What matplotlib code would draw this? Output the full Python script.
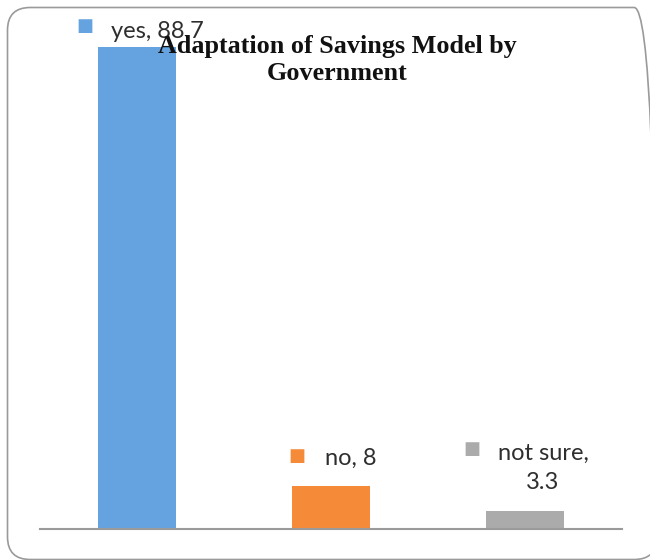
import matplotlib
matplotlib.use("Agg")
import matplotlib.pyplot as plt
from matplotlib.patches import FancyBboxPatch

categories = ["yes", "no", "not sure"]
values = [88.7, 8, 3.3]
label_texts = ["yes, 88.7", "no, 8", "not sure,\n3.3"]
colors = ["#65A3E0", "#F58A38", "#ABABAB"]
title = "Adaptation of Savings Model by\nGovernment"

# label placement (pixel offsets from bar top-centre)
marker_offsets = [(-52, 21), (-34, 30), (-53, 62)]
text_offsets = [(-26, 16), (-6, 27), (18, 43)]
text_ha = ["left", "left", "center"]

W, H, DPI = 650, 560, 100
fig = plt.figure(figsize=(W / DPI, H / DPI), dpi=DPI)

# rounded frame
frame = FancyBboxPatch((7.5 / W, 0.5 / H), (657 - 7.5) / W, (552.5 - 0.5) / H,
                       boxstyle="round,pad=0,rounding_size=0.035",
                       transform=fig.transFigure, facecolor="none",
                       edgecolor="#9A9A9A", linewidth=1.2, zorder=-1,
                       mutation_aspect=W / H)
fig.patches.append(frame)

ax = fig.add_axes([40 / W, 31 / H, 582 / W, 489 / H])
ax.patch.set_alpha(0)
x = list(range(len(categories)))
ax.bar(x, values, width=0.4, color=colors, zorder=2)
ax.set_xlim(-0.5, 2.5)
ax.set_ylim(0, 90)
for s in ["top", "right", "left"]:
    ax.spines[s].set_visible(False)
ax.spines["bottom"].set_color("#9A9A9A")
ax.spines["bottom"].set_linewidth(1.5)
ax.set_xticks([])
ax.set_yticks([])

for i, (v, lab, c) in enumerate(zip(values, label_texts, colors)):
    ax.annotate("■", xy=(i, v), xytext=marker_offsets[i], textcoords="offset pixels",
                ha="center", va="center", color=c, fontsize=13,
                family="DejaVu Sans", zorder=3, annotation_clip=False)
    ax.annotate(lab, xy=(i, v), xytext=text_offsets[i], textcoords="offset pixels",
                ha=text_ha[i], va="center", color="#2E2E2E", fontsize=17,
                family="Lato", linespacing=1.45, zorder=3, annotation_clip=False)

fig.text(337 / W, 1 - 60 / H, title, ha="center", va="center",
         fontsize=18.8, fontweight="bold", family="Liberation Serif",
         color="#111111", linespacing=1.25, zorder=4)

fig.savefig("out.png", dpi=DPI)
